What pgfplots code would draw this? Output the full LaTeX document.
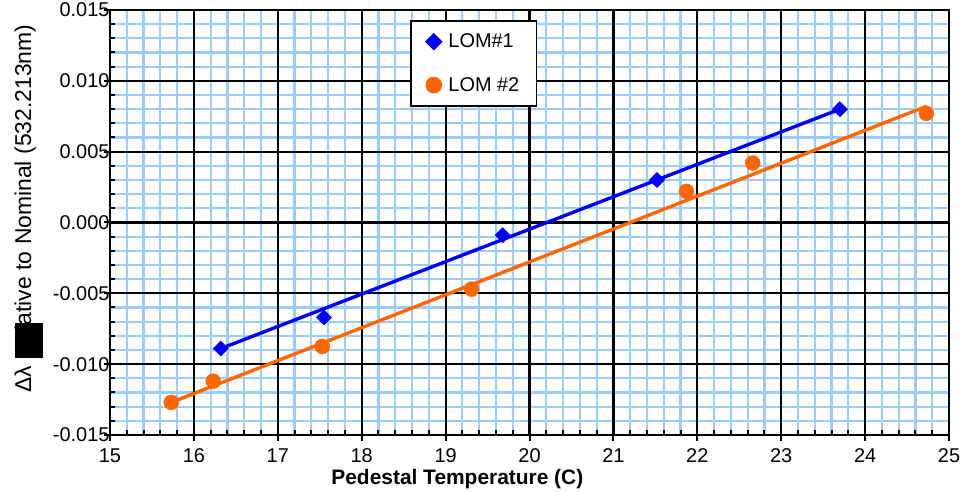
\documentclass[border=0pt]{standalone}
\usepackage{fontspec}
\setmainfont{Liberation Sans}
\usepackage{pgfplots}
\pgfplotsset{compat=1.18}
\definecolor{lomblue}{RGB}{0,0,255}
\definecolor{lomorange}{RGB}{255,102,0}
\definecolor{gridblue}{RGB}{153,204,255}

\pgfplotsset{
  frame/.style={
    at={(110bp,57bp)}, anchor=south west,
    scale only axis, width=839bp, height=425bp,
    xmin=15, xmax=25, ymin=-0.015, ymax=0.015,
    xtick={15,16,...,25},
    ytick={-0.015,-0.010,-0.005,0,0.005,0.010,0.015},
    minor x tick num=4, minor y tick num=4,
    scaled y ticks=false,
  }
}

\begin{document}
\begin{tikzpicture}[x=1bp,y=1bp]
\useasboundingbox (0,0) rectangle (978,492);
% blue minor grid underneath
\begin{axis}[frame,
  grid=minor, minor grid style={gridblue, line width=2.2pt},
  axis line style={draw=none},
  xticklabels={}, yticklabels={},
  major tick length=0pt, minor tick length=0pt,
]
\end{axis}
% black major grid, ticks, labels and data on top
\begin{axis}[frame,
  yticklabels={-0.015,-0.010,-0.005,0.000,0.005,0.010,0.015},
  xtick pos=bottom, ytick pos=left,
  tick align=inside,
  major tick length=-6bp, minor tick length=5bp,
  every tick/.style={black, line width=2pt},
  grid=major,
  major grid style={black, line width=2.2pt},
  axis line style={black, line width=2.4pt},
  /pgf/number format/assume math mode=true,
  ticklabel style={font=\fontsize{20}{20}\selectfont},
  yticklabel style={xshift=3bp},
  xticklabel style={yshift=-10bp},
  xlabel={\textbf{Pedestal Temperature (C)}},
  xlabel style={font=\fontsize{21}{21}\selectfont, at={(axis description cs:0.414,0)}, anchor=north, yshift=-31bp},
  ylabel={Δλ Relative to Nominal (532.213nm)},
  ylabel style={font=\fontsize{23}{23}\selectfont, inner sep=0pt,
    at={(axis description cs:-0.101,0.099)}, anchor=west},
  legend style={at={(0.358,0.976)}, anchor=north west, draw=black, line width=1.6pt,
    font=\fontsize{20}{20}\selectfont, fill=white, inner xsep=15bp, inner ysep=11bp,
    row sep=24bp, column sep=5bp},
  legend cell align=left,
]
\addplot[lomblue, line width=3.4pt, forget plot] coordinates {(16.32,-0.0089) (23.70,0.0080)};
\addplot[lomorange, line width=3.4pt, forget plot] coordinates {(15.73,-0.0127) (24.73,0.0082)};
\addplot[only marks, mark=square*, mark size=5.4bp, mark options={rotate=45}, color=lomblue] coordinates {
  (16.32,-0.0089) (17.55,-0.0067) (19.68,-0.0009) (21.52,0.0030) (23.70,0.0080)};
\addlegendentry{LOM\#1}
\addplot[only marks, mark=*, mark size=7.5bp, color=lomorange] coordinates {
  (15.73,-0.0127) (16.23,-0.0112) (17.53,-0.00875) (19.31,-0.0047)
  (21.87,0.0022) (22.66,0.0042) (24.73,0.0077)};
\addlegendentry{LOM \#2}
\end{axis}
\fill[black] (15,134) rectangle (43,169);
\end{tikzpicture}
\end{document}
